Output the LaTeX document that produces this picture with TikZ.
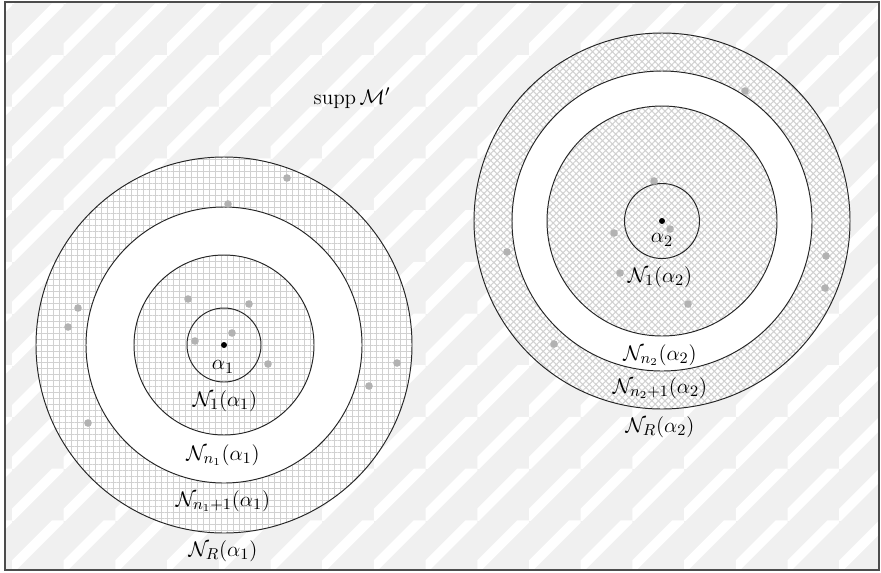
\documentclass[tikz,border=0pt]{standalone}
\usetikzlibrary{patterns.meta}

\begin{document}
\begin{tikzpicture}[x=0.02cm, y=-0.02cm,
  ring/.style={draw=black!85, line width=0.55pt},
  gridfill/.style={pattern={Hatch[angle=0, distance=3.4pt, line width=0.5pt]}, pattern color=black!18},
  crossfill/.style={pattern={Hatch[angle=45, distance=2.65pt, line width=0.6pt]}, pattern color=black!18},
  lab/.style={inner sep=0pt, font=\fontsize{12.7}{15}\selectfont},
  spot/.style={fill=black!30},
  centre/.style={fill=black}]
  \useasboundingbox (0,0) rectangle (881,572);

  % background tiles
  \begin{scope}
    \clip (5,2) rectangle (879,570);
    \fill[gray!12] (5,2) rectangle (879,570);
    \foreach \i in {-1,...,17}{
      \foreach \j in {-1,...,11}{
        \begin{scope}[shift={({12+51.7*\i},{3.3+51.7*\j})}]
          \clip (0,0) rectangle (51.7,51.7);
          \fill[white] (40,0) -- (54,0) -- (0,54) -- (0,40) -- cycle;
        \end{scope}
      }
    }
  \end{scope}
  \draw[black!70, line width=0.6pt] (5,2) rectangle (879,570);

  \coordinate (a1) at (224,345);
  \coordinate (a2) at (662,221);

  % first neighbourhood system
  \fill[white] (a1) circle [radius=188];
  \fill[gridfill, even odd rule] (a1) circle [radius=188] (a1) circle [radius=138];
  \fill[gridfill] (a1) circle [radius=90];
  \foreach \r in {188,138,90,37}
    \draw[ring] (a1) circle [radius=\r];

  % second neighbourhood system
  \fill[white] (a2) circle [radius=188];
  \fill[crossfill, even odd rule] (a2) circle [radius=188] (a2) circle [radius=150];
  \fill[crossfill] (a2) circle [radius=115];
  \foreach \r in {188,150,115,37.5}
    \draw[ring] (a2) circle [radius=\r];

  % sample points
  \foreach \p in {(287,178),(228,204),(78,308),(68,327),(188,299),(249,304),
                  (195,341),(232,333),(268,364),(397,363),(369,386),(88,423),
                  (745,91),(654,181),(670,229),(614,233),(620,273),(688,304),
                  (507,252),(826,256),(825,288),(554,344)}
    \fill[spot] \p circle [radius=3.8];
  \fill[centre] (a1) circle [radius=3];
  \fill[centre] (a2) circle [radius=3];

  % labels
  \node[lab] (supp) at (352,98) {$\mathrm{supp}\,\mathcal{M}'$};

  \node[lab] (al1) at (223,367) {$\alpha_1$};
  \node[lab] (n11) at (225,401) {$\mathcal{N}_1(\alpha_1)$};
  \node[lab] (nn1) at (223,455) {$\mathcal{N}_{n_1}(\alpha_1)$};
  \node[lab] (nm1) at (223,501) {$\mathcal{N}_{n_1+1}(\alpha_1)$};
  \node[lab] (nr1) at (223,551) {$\mathcal{N}_R(\alpha_1)$};

  \node[lab] (al2) at (662,240) {$\alpha_2$};
  \node[lab] (n12) at (660,277) {$\mathcal{N}_1(\alpha_2)$};
  \node[lab] (nn2) at (660,355) {$\mathcal{N}_{n_2}(\alpha_2)$};
  \node[lab] (nm2) at (660,388) {$\mathcal{N}_{n_2+1}(\alpha_2)$};
  \node[lab] (nr2) at (660,427) {$\mathcal{N}_R(\alpha_2)$};
\end{tikzpicture}
\end{document}
